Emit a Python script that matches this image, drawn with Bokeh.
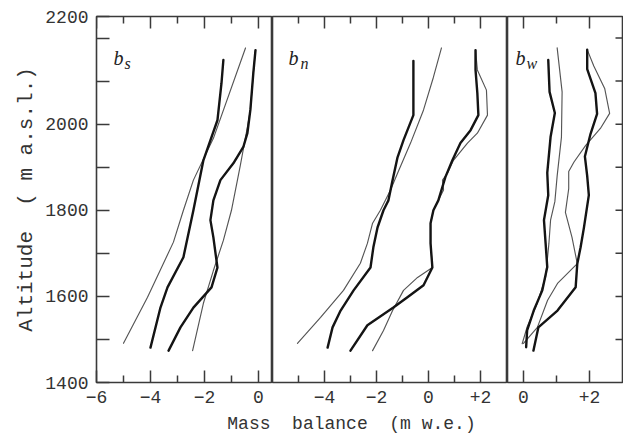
import math
from bokeh.plotting import figure
from bokeh.layouts import column, row
from bokeh.models import Range1d, FixedTicker, Label
from bokeh.embed import file_html
from bokeh.resources import INLINE

# ---------------- data (mass balance in m w.e., altitude in m a.s.l.) ----------------
# panel b_s
bs_a_x = [-5.0, -4.11, -3.15, -2.78, -2.41, -1.67, -0.48]
bs_a_alt = [1491, 1598, 1726, 1800, 1870, 1967, 2177]
bs_b_x = [-4.0, -3.63, -3.37, -2.78, -2.41, -2.04, -1.52, -1.37, -1.30]
bs_b_alt = [1481, 1574, 1621, 1691, 1800, 1916, 2009, 2095, 2149]
bs_c_x = [-3.33, -2.89, -2.41, -1.74, -1.52, -1.67, -1.78, -1.67, -1.41, -0.93, -0.56, -0.41, -0.30, -0.19, -0.11]
bs_c_alt = [1474, 1528, 1574, 1621, 1667, 1737, 1777, 1823, 1870, 1909, 1947, 1979, 2033, 2119, 2172]
bs_d_x = [-2.44, -2.04, -1.67, -1.30, -1.0, -0.67, -0.41, -0.30, -0.19, -0.11]
bs_d_alt = [1474, 1584, 1660, 1730, 1800, 1905, 1993, 2033, 2119, 2172]

# panel b_n
bn_e_x = [-0.58, -0.58, -0.96, -1.19, -1.38, -1.54, -1.73, -1.96, -2.12, -2.23, -2.88, -3.38, -3.69, -3.88]
bn_e_alt = [2147, 2021, 1963, 1923, 1870, 1823, 1800, 1760, 1714, 1667, 1614, 1567, 1528, 1481]
bn_f_x = [0.5, 0.19, -0.19, -0.69, -1.19, -1.46, -1.85, -2.15, -2.35, -2.62, -3.27, -4.15, -5.04]
bn_f_alt = [2177, 2109, 2033, 1956, 1886, 1847, 1800, 1770, 1723, 1677, 1614, 1551, 1491]
bn_g_x = [1.81, 1.81, 1.88, 1.92, 1.62, 1.23, 0.92, 0.65, 0.38, 0.19, 0.08, 0.08, 0.15, -0.19, -0.81, -1.35, -2.35, -3.0]
bn_g_alt = [2172, 2126, 2072, 2021, 1986, 1956, 1916, 1877, 1823, 1800, 1770, 1723, 1667, 1626, 1598, 1574, 1533, 1474]
bn_h_x = [1.81, 1.88, 2.23, 2.27, 1.88, 1.5, 0.96, 0.73, 0.54, 0.58, 0.38, 0.19, 0.08, 0.08, 0.15, -0.42, -0.96, -1.38, -1.73, -2.15]
bn_h_alt = [2172, 2126, 2079, 2021, 1979, 1956, 1916, 1886, 1870, 1847, 1823, 1800, 1770, 1723, 1667, 1644, 1614, 1567, 1521, 1474]

# panel b_w
bw_i_x = [0.75, 0.79, 0.95, 0.82, 0.72, 0.75, 0.62, 0.67, 0.72, 0.57, 0.31, 0.11, 0.08]
bw_i_alt = [2149, 2075, 2026, 1970, 1887, 1835, 1777, 1723, 1668, 1614, 1567, 1521, 1482]
bw_j_x = [1.02, 1.17, 1.15, 1.02, 0.95, 0.82, 0.77, 0.67, 0.41, 0.11, -0.04]
bw_j_alt = [2177, 2075, 1970, 1880, 1820, 1777, 1723, 1645, 1583, 1529, 1490]
bw_k_x = [1.93, 1.93, 2.18, 2.23, 2.03, 1.86, 1.93, 1.98, 1.83, 1.73, 1.63, 1.58, 1.03, 0.45, 0.30]
bw_k_alt = [2173, 2128, 2072, 2024, 1977, 1925, 1880, 1835, 1759, 1714, 1676, 1621, 1567, 1528, 1474]
bw_l_x = [1.93, 2.13, 2.46, 2.61, 2.33, 1.88, 1.53, 1.37, 1.37, 1.27, 1.47, 1.63, 1.03, 0.73, 0.42, 0.0]
bw_l_alt = [2173, 2135, 2083, 2025, 1990, 1950, 1912, 1890, 1850, 1795, 1737, 1676, 1630, 1591, 1528, 1491]

# ticks / labels
alt_major = [1400, 1600, 1800, 2000, 2250]
alt_minor = [1500, 1700, 1900, 2100, 2200]
alt_overrides = {2250: "2200"}
alt_right = [1500, 1600, 1700, 1800, 1900, 2000, 2100, 2200]

p1_major, p1_minor = [-6, -4, -2, 0], [-5, -3, -1]
p2_major, p2_minor = [-4, -2, 0, 2], [-5, -3, -1, 1]
p3_major, p3_minor = [0, 2], [1]
plus_labels = {2: "+2"}

NB = "\u00a0"
y_title = "Altitude" + NB + NB + "(" + NB + "m a.s.l.)"
x_title = "Mass" + NB + NB + "balance" + NB + NB + "(m w.e.)"

# ---------------- styling / layout ----------------
MONO = "Liberation Mono"
SERIF = "Liberation Serif"
FRAME_C = "#3a3a3a"
TEXT_C = "#333333"
THICK_C = "#141414"
THIN_C = "#555555"
THICK_W = 2.4
THIN_W = 1.15
TICK_W = 1.5

STRIP_H = 22
PANEL_H = 434 - STRIP_H
TOP_B = 16
BOTTOM_B = 30

y_range = Range1d(1400, 2250)


def style_x(ax, major, minor, overrides):
    ax.ticker = FixedTicker(ticks=major, minor_ticks=minor)
    ax.axis_label = None
    ax.major_tick_in = 12
    ax.major_tick_out = 0
    ax.minor_tick_in = 7
    ax.minor_tick_out = 0
    ax.major_tick_line_color = FRAME_C
    ax.minor_tick_line_color = FRAME_C
    ax.major_tick_line_width = TICK_W
    ax.minor_tick_line_width = TICK_W
    ax.axis_line_color = None
    ax.major_label_overrides = overrides
    ax.major_label_text_font = MONO
    ax.major_label_text_font_size = "18px"
    ax.major_label_text_color = TEXT_C
    ax.major_label_standoff = 8
    ax.axis_label_standoff = 0


def top_ticks(p, major, minor):
    # inward tick marks along the top edge of the frame
    p.ray(x=major, y=[y_range.end] * len(major), length=12, angle=-math.pi / 2,
          length_units="screen", line_color=FRAME_C, line_width=TICK_W)
    p.ray(x=minor, y=[y_range.end] * len(minor), length=7, angle=-math.pi / 2,
          length_units="screen", line_color=FRAME_C, line_width=TICK_W)


def make_panel(x0, x1, width, major, minor, overrides, left=False, right=False):
    p = figure(width=width, height=PANEL_H, title=None,
               x_range=Range1d(x0, x1), y_range=y_range,
               output_backend="svg", toolbar_location=None,
               y_axis_location=("left" if left else None),
               min_border_left=(96 if left else 0), min_border_right=(1 if right else 0),
               min_border_top=TOP_B, min_border_bottom=BOTTOM_B,
               background_fill_color="white", border_fill_color="white",
               outline_line_color=FRAME_C, outline_line_width=1.6)
    p.grid.visible = False
    style_x(p.xaxis[0], major, minor, overrides)
    top_ticks(p, major, minor)
    if left:
        ay = p.yaxis[0]
        ay.ticker = FixedTicker(ticks=alt_major, minor_ticks=alt_minor)
        ay.major_tick_in = 13
        ay.major_tick_out = 0
        ay.minor_tick_in = 13
        ay.minor_tick_out = 0
        ay.major_tick_line_color = FRAME_C
        ay.minor_tick_line_color = FRAME_C
        ay.major_tick_line_width = TICK_W
        ay.minor_tick_line_width = TICK_W
        ay.axis_line_color = None
        ay.major_label_overrides = alt_overrides
        ay.major_label_text_font = MONO
        ay.major_label_text_font_size = "18px"
        ay.major_label_text_color = TEXT_C
        ay.major_label_standoff = 8
        ay.axis_label = y_title
        ay.axis_label_text_font = MONO
        ay.axis_label_text_font_size = "21px"
        ay.axis_label_text_font_style = "normal"
        ay.axis_label_text_color = TEXT_C
        ay.axis_label_standoff = 4
    if right:
        # inward tick marks along the right edge of the frame
        p.ray(x=[x1] * len(alt_right), y=alt_right, length=7, angle=math.pi,
              length_units="screen", line_color=FRAME_C, line_width=TICK_W)
    return p


def add_tag(p, main, sub, dx_main, dx_sub):
    p.add_layout(Label(x=p.x_range.start, y=y_range.end, x_offset=dx_main, y_offset=-41,
                       text=main, text_font=SERIF, text_font_style="italic",
                       text_font_size="20px", text_color="#222222",
                       text_baseline="alphabetic", text_align="left"))
    p.add_layout(Label(x=p.x_range.start, y=y_range.end, x_offset=dx_sub, y_offset=-46.5,
                       text=sub, text_font=SERIF, text_font_style="italic",
                       text_font_size="16px", text_color="#222222",
                       text_baseline="alphabetic", text_align="left"))


def profile(p, xs, alts, thick):
    p.line(xs, alts, line_color=(THICK_C if thick else THIN_C),
           line_width=(THICK_W if thick else THIN_W), line_join="round", line_cap="round")


p1 = make_panel(-6.0, 0.52, 272, p1_major, p1_minor, {}, left=True)
p2 = make_panel(-6.0, 3.04, 235, p2_major, p2_minor, plus_labels)
p3 = make_panel(-0.485, 3.0, 116, p3_major, p3_minor, plus_labels, right=True)

profile(p1, bs_a_x, bs_a_alt, False)
profile(p1, bs_d_x, bs_d_alt, False)
profile(p1, bs_b_x, bs_b_alt, True)
profile(p1, bs_c_x, bs_c_alt, True)

profile(p2, bn_f_x, bn_f_alt, False)
profile(p2, bn_h_x, bn_h_alt, False)
profile(p2, bn_e_x, bn_e_alt, True)
profile(p2, bn_g_x, bn_g_alt, True)

profile(p3, bw_j_x, bw_j_alt, False)
profile(p3, bw_l_x, bw_l_alt, False)
profile(p3, bw_i_x, bw_i_alt, True)
profile(p3, bw_k_x, bw_k_alt, True)

add_tag(p1, "b", "s", 17, 28)
add_tag(p2, "b", "n", 16, 28)
add_tag(p3, "b", "w", 8, 19)

strip = figure(width=623, height=STRIP_H, title=None,
               x_range=Range1d(0, 623), y_range=Range1d(0, STRIP_H),
               output_backend="svg", toolbar_location=None, min_border=0,
               x_axis_location=None, y_axis_location=None, outline_line_color=None,
               background_fill_color="white", border_fill_color="white")
strip.grid.visible = False
strip.add_layout(Label(x=351, y=STRIP_H / 2, text=x_title, text_align="center",
                       text_baseline="middle", text_font=MONO,
                       text_font_size="18px", text_color=TEXT_C))

layout = column(row(p1, p2, p3, spacing=0), strip, spacing=0)

open("out.html", "w").write(file_html(layout, INLINE))
